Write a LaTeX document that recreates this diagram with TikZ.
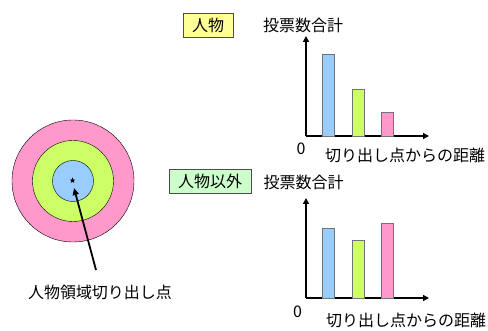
\documentclass[tikz,border=0pt]{standalone}
\usepackage{fontspec}
\setmainfont{Noto Sans CJK JP}
\usetikzlibrary{shapes.geometric,arrows.meta}
\definecolor{cblue}{HTML}{99CCFF}
\definecolor{cgreen}{HTML}{CCFF66}
\definecolor{cpink}{HTML}{FF99CC}
\definecolor{cyel}{HTML}{FFFF99}
\definecolor{clgreen}{HTML}{CCFFCC}
\tikzset{
  txt/.style={font=\fontsize{16}{18}\selectfont, inner sep=0pt},
  tag/.style={draw=black!70, line width=0.6pt, inner xsep=9pt, inner ysep=0pt, minimum height=24pt, font=\fontsize{16}{18}\selectfont},
  axis/.style={line width=1.4pt, -{Triangle[length=6pt,width=6pt]}},
  bar/.style={draw=black!55, line width=0.6pt},
}
\begin{document}
\begin{tikzpicture}[x=1pt,y=-1pt]
\useasboundingbox (0,0) rectangle (488,331);
% target
\node[circle, draw, fill=cpink, minimum size=122pt, inner sep=0pt] (outer) at (73,181) {};
\node[circle, draw, fill=cgreen, minimum size=81pt, inner sep=0pt] (mid) at (73,181) {};
\node[circle, draw, fill=cblue, minimum size=41pt, inner sep=0pt] (inner) at (73,181) {};
\node[star, star points=5, star point ratio=2.4, fill=black, minimum size=6pt, inner sep=0pt] (st) at (72.5,180.5) {};
\coordinate (arrstart) at (96,270);
\draw[line width=1.8pt, -{Triangle[length=7pt,width=6pt]}] (arrstart) -- (74,188);
\node[txt] (lab) at (100,292) {人物領域切り出し点};
% top chart
\node[tag, fill=cyel] (t1) at (208,25) {人物};
\node[txt] (y1) at (303,25) {投票数合計};
\coordinate (o1) at (306,136);
\draw[axis] (o1) -- (306,36);
\draw[axis] (o1) -- (429,136);
\draw[bar, fill=cblue] (322.7,136) rectangle (334,54);
\draw[bar, fill=cgreen] (352.7,136) rectangle (364,89.3);
\draw[bar, fill=cpink] (381.7,136) rectangle (393.3,112.7);
\node[txt] (z1) at (301,149) {0};
\node[txt] (x1) at (405,155) {切り出し点からの距離};
% bottom chart
\node[tag, fill=clgreen] (t2) at (210,181) {人物以外};
\node[txt] (y2) at (303.5,182) {投票数合計};
\coordinate (o2) at (306,298);
\draw[axis] (o2) -- (306,198);
\draw[axis] (o2) -- (429,298);
\draw[bar, fill=cblue] (322.7,298) rectangle (334.3,228.3);
\draw[bar, fill=cgreen] (352.7,298) rectangle (364,240.3);
\draw[bar, fill=cpink] (381.7,298) rectangle (393.3,223);
\node[txt] (z2) at (297.5,311.5) {0};
\node[txt] (x2) at (406,320) {切り出し点からの距離};
\end{tikzpicture}
\end{document}
